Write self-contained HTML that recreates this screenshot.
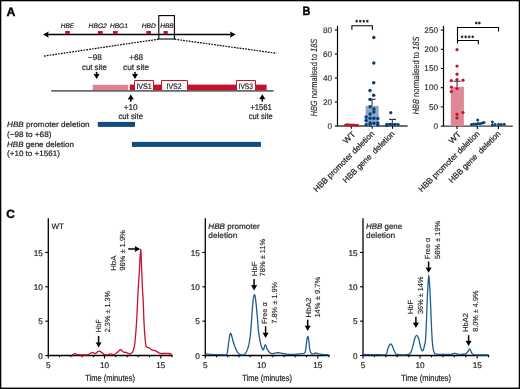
<!DOCTYPE html>
<html><head><meta charset="utf-8"><title>Figure</title>
<style>
html,body{margin:0;padding:0;background:#fff;}
body{width:520px;height:389px;overflow:hidden;}
svg{display:block;font-family:"Liberation Sans",sans-serif;text-rendering:geometricPrecision;}
svg{will-change:transform;}
text{stroke:#222;stroke-width:0.2px;}
text.ns{stroke-width:0.12px;}
text.bl{stroke:#000;stroke-width:0.35px;}
text.lt{stroke-width:0.1px;}
</style></head><body>
<svg width="520" height="389" viewBox="0 0 520 389">
<rect x="0" y="0" width="520" height="389" fill="#fff" />
<text x="6.6" y="15.5" font-size="12.2" textLength="8.9" lengthAdjust="spacingAndGlyphs" fill="#000" font-weight="bold" class="bl">A</text>
<text x="302.6" y="15.3" font-size="12.2" textLength="7.9" lengthAdjust="spacingAndGlyphs" fill="#000" font-weight="bold" class="bl">B</text>
<text x="6.2" y="218.3" font-size="11.8" textLength="8.6" lengthAdjust="spacingAndGlyphs" fill="#000" font-weight="bold" class="bl">C</text>
<line x1="47" y1="34.5" x2="231" y2="34.5" stroke="#000" stroke-width="1.4" />
<path d="M43.1,34.5 L48.7,31.5 L47.9,34.5 L48.7,37.7 Z" fill="#000"/>
<path d="M235.6,34.5 L230.0,31.6 L230.8,34.5 L230.0,37.7 Z" fill="#000"/>
<rect x="65.2" y="31.0" width="4.599999999999994" height="3.0" fill="#c8102e" />
<rect x="97.9" y="31.0" width="4.799999999999997" height="3.0" fill="#c8102e" />
<rect x="113.0" y="31.0" width="4.700000000000003" height="3.0" fill="#c8102e" />
<rect x="146.3" y="31.0" width="4.699999999999989" height="3.0" fill="#c8102e" />
<rect x="163.5" y="31.0" width="4.300000000000011" height="3.0" fill="#c8102e" />
<text x="60.8" y="27.9" font-size="6.5" textLength="13.3" lengthAdjust="spacingAndGlyphs" fill="#222" font-style="italic" >HBE</text>
<text x="88.6" y="27.9" font-size="6.5" textLength="18.2" lengthAdjust="spacingAndGlyphs" fill="#222" font-style="italic" >HBG2</text>
<text x="109.9" y="27.9" font-size="6.5" textLength="18.0" lengthAdjust="spacingAndGlyphs" fill="#222" font-style="italic" >HBG1</text>
<text x="141.8" y="27.9" font-size="6.5" textLength="14.0" lengthAdjust="spacingAndGlyphs" fill="#222" font-style="italic" >HBD</text>
<text x="160.3" y="27.9" font-size="6.5" textLength="13.4" lengthAdjust="spacingAndGlyphs" fill="#222" font-style="italic" >HBB</text>
<rect x="158.8" y="15.6" width="15.6" height="23.4" fill="none" stroke="#000" stroke-width="1.1"/>
<line x1="158.5" y1="39.2" x2="43.2" y2="56.2" stroke="#000" stroke-width="1.2" stroke-dasharray="1.75,1.1"/>
<line x1="174.6" y1="39.2" x2="276.5" y2="53.3" stroke="#000" stroke-width="1.2" stroke-dasharray="1.75,1.1"/>
<rect x="92.8" y="84.8" width="35.3" height="5.2" fill="#de8091" />
<rect x="129.8" y="84.6" width="4.7" height="5.6" fill="#c8102e" />
<rect x="153.5" y="84.6" width="8.0" height="5.6" fill="#c8102e" />
<rect x="187.5" y="84.6" width="49.0" height="5.6" fill="#c8102e" />
<rect x="255.5" y="84.6" width="11.1" height="5.6" fill="#c8102e" />
<rect x="134" y="80" width="20" height="10.2" fill="#fff" />
<path d="M134.5,90.2 V80.5 H153.5 V90.2" fill="none" stroke="#c8102e" stroke-width="1"/>
<rect x="161" y="80" width="27" height="10.2" fill="#fff" />
<path d="M161.5,90.2 V80.5 H187.5 V90.2" fill="none" stroke="#c8102e" stroke-width="1"/>
<rect x="236" y="80" width="20" height="10.2" fill="#fff" />
<path d="M236.5,90.2 V80.5 H255.5 V90.2" fill="none" stroke="#c8102e" stroke-width="1"/>
<rect x="51.2" y="90.2" width="222.4" height="1.4" fill="#444" />
<text x="136.4" y="88.8" font-size="8.0" textLength="15.4" lengthAdjust="spacingAndGlyphs" fill="#1a1a1a"  stroke="#222" stroke-width="0.22">IVS1</text>
<text x="166.6" y="88.8" font-size="8.0" textLength="14.9" lengthAdjust="spacingAndGlyphs" fill="#1a1a1a"  stroke="#222" stroke-width="0.22">IVS2</text>
<text x="238.6" y="88.8" font-size="8.0" textLength="14.3" lengthAdjust="spacingAndGlyphs" fill="#1a1a1a"  stroke="#222" stroke-width="0.22">IVS3</text>
<text x="94.8" y="59.9" font-size="8.2" text-anchor="middle" fill="#222"  >−98</text>
<text x="94.4" y="69.6" font-size="8.2" text-anchor="middle" textLength="24.8" lengthAdjust="spacingAndGlyphs" fill="#222"  >cut site</text>
<text x="136.2" y="59.9" font-size="8.2" text-anchor="middle" fill="#222"  >+68</text>
<text x="136.1" y="69.6" font-size="8.2" text-anchor="middle" textLength="26.0" lengthAdjust="spacingAndGlyphs" fill="#222"  >cut site</text>
<line x1="96.6" y1="71.9" x2="96.6" y2="74.80000000000001" stroke="#000" stroke-width="1.5" />
<path d="M93.5,73.80000000000001 L96.6,74.15 L99.69999999999999,73.80000000000001 L96.6,78.9 Z" fill="#000"/>
<line x1="135.0" y1="71.9" x2="135.0" y2="74.80000000000001" stroke="#000" stroke-width="1.5" />
<path d="M131.9,73.80000000000001 L135.0,74.15 L138.1,73.80000000000001 L135.0,78.9 Z" fill="#000"/>
<line x1="130.8" y1="101.8" x2="130.8" y2="98.6" stroke="#000" stroke-width="1.5" />
<path d="M127.70000000000002,99.6 L130.8,99.25 L133.9,99.6 L130.8,94.6 Z" fill="#000"/>
<line x1="262.3" y1="101.6" x2="262.3" y2="98.3" stroke="#000" stroke-width="1.5" />
<path d="M259.2,99.3 L262.3,98.95 L265.40000000000003,99.3 L262.3,94.3 Z" fill="#000"/>
<text x="130.6" y="109.6" font-size="8.2" text-anchor="middle" fill="#222"  >+10</text>
<text x="130.7" y="118.7" font-size="8.2" text-anchor="middle" textLength="24.6" lengthAdjust="spacingAndGlyphs" fill="#222"  >cut site</text>
<text x="261.0" y="109.9" font-size="8.2" text-anchor="middle" textLength="21.6" lengthAdjust="spacingAndGlyphs" fill="#222"  >+1561</text>
<text x="260.8" y="118.8" font-size="8.2" text-anchor="middle" textLength="24.0" lengthAdjust="spacingAndGlyphs" fill="#222"  >cut site</text>
<text x="7.0" y="127.3" font-size="7.8" fill="#222" textLength="82.6" lengthAdjust="spacingAndGlyphs"><tspan font-style="italic">HBB</tspan> promoter deletion</text>
<text x="7.0" y="136.6" font-size="7.8" textLength="44.4" lengthAdjust="spacingAndGlyphs" fill="#222"  >(−98 to +68)</text>
<text x="7.0" y="146.9" font-size="7.8" fill="#222" textLength="66.9" lengthAdjust="spacingAndGlyphs"><tspan font-style="italic">HBB</tspan> gene deletion</text>
<text x="7.0" y="156.3" font-size="7.8" textLength="52.9" lengthAdjust="spacingAndGlyphs" fill="#222"  >(+10 to +1561)</text>
<rect x="97.8" y="121.9" width="37.2" height="5.0" fill="#104c80" />
<rect x="131.9" y="141.9" width="129.0" height="5.0" fill="#104c80" />
<line x1="337.5" y1="25.8" x2="337.5" y2="126.6" stroke="#000" stroke-width="1.2" />
<line x1="334.8" y1="126.0" x2="337.5" y2="126.0" stroke="#000" stroke-width="1.1" />
<text x="332.0" y="128.7" font-size="8.2" text-anchor="end" fill="#222"  class="lt">0</text>
<line x1="334.8" y1="102.0" x2="337.5" y2="102.0" stroke="#000" stroke-width="1.1" />
<text x="332.0" y="104.7" font-size="8.2" text-anchor="end" fill="#222"  class="lt">20</text>
<line x1="334.8" y1="78.0" x2="337.5" y2="78.0" stroke="#000" stroke-width="1.1" />
<text x="332.0" y="80.7" font-size="8.2" text-anchor="end" fill="#222"  class="lt">40</text>
<line x1="334.8" y1="54.0" x2="337.5" y2="54.0" stroke="#000" stroke-width="1.1" />
<text x="332.0" y="56.7" font-size="8.2" text-anchor="end" fill="#222"  class="lt">60</text>
<line x1="334.8" y1="30.0" x2="337.5" y2="30.0" stroke="#000" stroke-width="1.1" />
<text x="332.0" y="32.7" font-size="8.2" text-anchor="end" fill="#222"  class="lt">80</text>
<line x1="336.9" y1="126.0" x2="407.6" y2="126.0" stroke="#3c3c3c" stroke-width="1.3" />
<line x1="351.3" y1="126.0" x2="351.3" y2="128.8" stroke="#000" stroke-width="1.1" />
<line x1="372.2" y1="126.0" x2="372.2" y2="128.8" stroke="#000" stroke-width="1.1" />
<line x1="392.5" y1="126.0" x2="392.5" y2="128.8" stroke="#000" stroke-width="1.1" />
<text transform="translate(317.0,77.6) rotate(-90)" font-size="9.0" text-anchor="middle" fill="#222" class="lt" textLength="77.6" lengthAdjust="spacingAndGlyphs"><tspan font-style="italic">HBG</tspan> normalised to <tspan font-style="italic">18S</tspan></text>
<rect x="365.95" y="106.15" width="12.3" height="19.849999999999994" fill="#8caac8" stroke="#7b9dc2" stroke-width="0.5"/>
<rect x="386.4" y="123.0" width="12.0" height="3.0" fill="#8caac8" />
<line x1="372.1" y1="99.3" x2="372.1" y2="106.0" stroke="#555" stroke-width="1.3" />
<line x1="369.1" y1="99.3" x2="375.5" y2="99.3" stroke="#444" stroke-width="1.3" />
<line x1="392.3" y1="119.4" x2="392.3" y2="123.5" stroke="#444" stroke-width="1.2" />
<line x1="389.1" y1="119.4" x2="396.0" y2="119.4" stroke="#333" stroke-width="1.2" />
<circle cx="345.5" cy="125.0" r="1.3" fill="#c8102e"/>
<circle cx="347.0" cy="124.6" r="1.3" fill="#c8102e"/>
<circle cx="348.6" cy="124.9" r="1.3" fill="#c8102e"/>
<circle cx="350.2" cy="124.8" r="1.3" fill="#c8102e"/>
<circle cx="351.8" cy="125.1" r="1.3" fill="#c8102e"/>
<circle cx="353.4" cy="124.9" r="1.3" fill="#c8102e"/>
<circle cx="355.0" cy="125.2" r="1.3" fill="#c8102e"/>
<circle cx="356.6" cy="125.0" r="1.3" fill="#c8102e"/>
<circle cx="357.6" cy="125.2" r="1.3" fill="#c8102e"/>
<circle cx="373.8" cy="37.45" r="1.75" fill="#0c3f79"/>
<circle cx="373.8" cy="62.9" r="1.75" fill="#0c3f79"/>
<circle cx="373.7" cy="82.8" r="1.75" fill="#0c3f79"/>
<circle cx="370.0" cy="90.5" r="1.75" fill="#0c3f79"/>
<circle cx="373.7" cy="95.3" r="1.75" fill="#0c3f79"/>
<circle cx="370.0" cy="99.4" r="1.75" fill="#0c3f79"/>
<circle cx="370.1" cy="106.7" r="1.75" fill="#0c3f79"/>
<circle cx="373.9" cy="108.9" r="1.75" fill="#0c3f79"/>
<circle cx="373.9" cy="112.1" r="1.75" fill="#0c3f79"/>
<circle cx="370.1" cy="114.1" r="1.75" fill="#0c3f79"/>
<circle cx="366.1" cy="117.0" r="1.75" fill="#0c3f79"/>
<circle cx="370.1" cy="118.2" r="1.75" fill="#0c3f79"/>
<circle cx="373.9" cy="118.2" r="1.75" fill="#0c3f79"/>
<circle cx="377.8" cy="118.4" r="1.75" fill="#0c3f79"/>
<circle cx="366.1" cy="120.6" r="1.75" fill="#0c3f79"/>
<circle cx="370.1" cy="122.9" r="1.75" fill="#0c3f79"/>
<circle cx="373.9" cy="123.3" r="1.75" fill="#0c3f79"/>
<circle cx="377.8" cy="123.0" r="1.75" fill="#0c3f79"/>
<circle cx="366.1" cy="124.7" r="1.75" fill="#0c3f79"/>
<circle cx="370.1" cy="125.0" r="1.75" fill="#0c3f79"/>
<circle cx="377.8" cy="125.0" r="1.75" fill="#0c3f79"/>
<circle cx="390.8" cy="112.7" r="1.6" fill="#0c3f79"/>
<circle cx="386.9" cy="124.3" r="1.6" fill="#0c3f79"/>
<circle cx="390.0" cy="124.4" r="1.6" fill="#0c3f79"/>
<circle cx="392.3" cy="124.5" r="1.6" fill="#0c3f79"/>
<circle cx="395.0" cy="124.4" r="1.6" fill="#0c3f79"/>
<circle cx="398.1" cy="124.5" r="1.6" fill="#0c3f79"/>
<circle cx="386.9" cy="125.6" r="1.6" fill="#0c3f79"/>
<path d="M351.9,29.8 L351.9,25.8 L372.4,25.8 L372.4,29.8" fill="none" stroke="#000" stroke-width="1.1"/>
<path d="M356.70,19.80 L356.70,22.60 M355.49,20.50 L357.91,21.90 M357.91,20.50 L355.49,21.90 " stroke="#111" stroke-width="0.85" fill="none"/>
<path d="M360.25,19.80 L360.25,22.60 M359.04,20.50 L361.46,21.90 M361.46,20.50 L359.04,21.90 " stroke="#111" stroke-width="0.85" fill="none"/>
<path d="M363.80,19.80 L363.80,22.60 M362.59,20.50 L365.01,21.90 M365.01,20.50 L362.59,21.90 " stroke="#111" stroke-width="0.85" fill="none"/>
<path d="M367.35,19.80 L367.35,22.60 M366.14,20.50 L368.56,21.90 M368.56,20.50 L366.14,21.90 " stroke="#111" stroke-width="0.85" fill="none"/>
<line x1="443.5" y1="25.8" x2="443.5" y2="126.69999999999999" stroke="#000" stroke-width="1.2" />
<line x1="440.8" y1="126.1" x2="443.5" y2="126.1" stroke="#000" stroke-width="1.1" />
<text x="438.0" y="128.79999999999998" font-size="8.2" text-anchor="end" fill="#222"  class="lt">0</text>
<line x1="440.8" y1="106.89999999999999" x2="443.5" y2="106.89999999999999" stroke="#000" stroke-width="1.1" />
<text x="438.0" y="109.6" font-size="8.2" text-anchor="end" fill="#222"  class="lt">50</text>
<line x1="440.8" y1="87.69999999999999" x2="443.5" y2="87.69999999999999" stroke="#000" stroke-width="1.1" />
<text x="438.0" y="90.39999999999999" font-size="8.2" text-anchor="end" fill="#222"  class="lt">100</text>
<line x1="440.8" y1="68.5" x2="443.5" y2="68.5" stroke="#000" stroke-width="1.1" />
<text x="438.0" y="71.2" font-size="8.2" text-anchor="end" fill="#222"  class="lt">150</text>
<line x1="440.8" y1="49.3" x2="443.5" y2="49.3" stroke="#000" stroke-width="1.1" />
<text x="438.0" y="52.0" font-size="8.2" text-anchor="end" fill="#222"  class="lt">200</text>
<line x1="440.8" y1="30.099999999999994" x2="443.5" y2="30.099999999999994" stroke="#000" stroke-width="1.1" />
<text x="438.0" y="32.8" font-size="8.2" text-anchor="end" fill="#222"  class="lt">250</text>
<line x1="442.9" y1="126.1" x2="512.8" y2="126.1" stroke="#3c3c3c" stroke-width="1.3" />
<line x1="457.0" y1="126.1" x2="457.0" y2="128.9" stroke="#000" stroke-width="1.1" />
<line x1="477.3" y1="126.1" x2="477.3" y2="128.9" stroke="#000" stroke-width="1.1" />
<line x1="498.4" y1="126.1" x2="498.4" y2="128.9" stroke="#000" stroke-width="1.1" />
<text transform="translate(418.9,75.5) rotate(-90)" font-size="9.0" text-anchor="middle" fill="#222" class="lt" textLength="77.8" lengthAdjust="spacingAndGlyphs"><tspan font-style="italic">HBB</tspan> normalised to <tspan font-style="italic">18S</tspan></text>
<rect x="450.8" y="86.8" width="13.1" height="39.3" fill="#de8796" />
<line x1="457.1" y1="81.3" x2="457.1" y2="86.8" stroke="#555" stroke-width="1.3" />
<line x1="453.5" y1="81.3" x2="460.7" y2="81.3" stroke="#555" stroke-width="1.3" />
<circle cx="457.0" cy="49.7" r="1.6" fill="#c8102e"/>
<circle cx="457.0" cy="66.1" r="1.6" fill="#c8102e"/>
<circle cx="457.0" cy="74.2" r="1.6" fill="#c8102e"/>
<circle cx="451.3" cy="80.7" r="1.6" fill="#c8102e"/>
<circle cx="457.0" cy="79.6" r="1.6" fill="#c8102e"/>
<circle cx="463.0" cy="80.2" r="1.6" fill="#c8102e"/>
<circle cx="451.3" cy="87.0" r="1.6" fill="#c8102e"/>
<circle cx="457.0" cy="88.6" r="1.6" fill="#c8102e"/>
<circle cx="451.3" cy="91.5" r="1.6" fill="#c8102e"/>
<circle cx="457.0" cy="114.3" r="1.6" fill="#c8102e"/>
<circle cx="457.0" cy="117.9" r="1.6" fill="#c8102e"/>
<circle cx="463.0" cy="112.5" r="1.6" fill="#c8102e"/>
<circle cx="477.7" cy="120.0" r="1.5" fill="#0c3f79"/>
<circle cx="471.5" cy="124.6" r="1.5" fill="#0c3f79"/>
<circle cx="473.7" cy="123.9" r="1.5" fill="#0c3f79"/>
<circle cx="475.8" cy="124.2" r="1.5" fill="#0c3f79"/>
<circle cx="478.0" cy="123.6" r="1.5" fill="#0c3f79"/>
<circle cx="480.2" cy="123.8" r="1.5" fill="#0c3f79"/>
<circle cx="482.4" cy="123.0" r="1.5" fill="#0c3f79"/>
<circle cx="484.0" cy="122.6" r="1.5" fill="#0c3f79"/>
<circle cx="492.4" cy="122.1" r="1.5" fill="#0c3f79"/>
<circle cx="492.4" cy="124.9" r="1.5" fill="#0c3f79"/>
<circle cx="495.1" cy="124.5" r="1.5" fill="#0c3f79"/>
<circle cx="498.5" cy="124.5" r="1.5" fill="#0c3f79"/>
<circle cx="501.2" cy="124.6" r="1.5" fill="#0c3f79"/>
<circle cx="504.2" cy="124.3" r="1.5" fill="#0c3f79"/>
<path d="M457.5,43.6 L457.5,27.5 L498.5,27.5 L498.5,31.6" fill="none" stroke="#000" stroke-width="1.1"/>
<path d="M457.5,40.5 L478.3,40.5 L478.3,44.3" fill="none" stroke="#000" stroke-width="1.1"/>
<path d="M462.10,35.40 L462.10,38.20 M460.89,36.10 L463.31,37.50 M463.31,36.10 L460.89,37.50 " stroke="#111" stroke-width="0.85" fill="none"/>
<path d="M465.65,35.40 L465.65,38.20 M464.44,36.10 L466.86,37.50 M466.86,36.10 L464.44,37.50 " stroke="#111" stroke-width="0.85" fill="none"/>
<path d="M469.20,35.40 L469.20,38.20 M467.99,36.10 L470.41,37.50 M470.41,36.10 L467.99,37.50 " stroke="#111" stroke-width="0.85" fill="none"/>
<path d="M472.75,35.40 L472.75,38.20 M471.54,36.10 L473.96,37.50 M473.96,36.10 L471.54,37.50 " stroke="#111" stroke-width="0.85" fill="none"/>
<path d="M476.30,21.60 L476.30,24.40 M475.09,22.30 L477.51,23.70 M477.51,22.30 L475.09,23.70 " stroke="#111" stroke-width="0.85" fill="none"/>
<path d="M479.40,21.60 L479.40,24.40 M478.19,22.30 L480.61,23.70 M480.61,22.30 L478.19,23.70 " stroke="#111" stroke-width="0.85" fill="none"/>
<text transform="translate(355.90000000000003,134.8) rotate(-45)" font-size="8.2" text-anchor="end" fill="#222" textLength="13.5" lengthAdjust="spacingAndGlyphs">WT</text>
<text transform="translate(375.0,134.2) rotate(-45)" font-size="8.2" text-anchor="end" fill="#222" textLength="82.4" lengthAdjust="spacingAndGlyphs">HBB promoter deletion</text>
<text transform="translate(395.3,134.2) rotate(-45)" font-size="8.2" text-anchor="end" fill="#222" textLength="69.6" lengthAdjust="spacingAndGlyphs">HBB gene&#160; deletion</text>
<text transform="translate(461.6,134.8) rotate(-45)" font-size="8.2" text-anchor="end" fill="#222" textLength="13.5" lengthAdjust="spacingAndGlyphs">WT</text>
<text transform="translate(480.1,134.2) rotate(-45)" font-size="8.2" text-anchor="end" fill="#222" textLength="82.4" lengthAdjust="spacingAndGlyphs">HBB promoter deletion</text>
<text transform="translate(501.2,134.2) rotate(-45)" font-size="8.2" text-anchor="end" fill="#222" textLength="69.6" lengthAdjust="spacingAndGlyphs">HBB gene&#160; deletion</text>
<line x1="48.3" y1="218.2" x2="48.3" y2="356.1" stroke="#000" stroke-width="1.3" />
<line x1="45.3" y1="355.5" x2="48.3" y2="355.5" stroke="#000" stroke-width="1.1" />
<text x="42.8" y="358.7" font-size="8.2" text-anchor="end" fill="#222"  >0</text>
<line x1="45.3" y1="321.15" x2="48.3" y2="321.15" stroke="#000" stroke-width="1.1" />
<text x="42.8" y="324.34999999999997" font-size="8.2" text-anchor="end" fill="#222"  >5</text>
<line x1="45.3" y1="286.8" x2="48.3" y2="286.8" stroke="#000" stroke-width="1.1" />
<text x="42.8" y="290.0" font-size="8.2" text-anchor="end" fill="#222"  >10</text>
<line x1="45.3" y1="252.45" x2="48.3" y2="252.45" stroke="#000" stroke-width="1.1" />
<text x="42.8" y="255.64999999999998" font-size="8.2" text-anchor="end" fill="#222"  >15</text>
<line x1="47.699999999999996" y1="355.5" x2="172.55" y2="355.5" stroke="#000" stroke-width="1.3" />
<line x1="48.3" y1="355.5" x2="48.3" y2="358.5" stroke="#000" stroke-width="1.1" />
<line x1="59.55" y1="355.5" x2="59.55" y2="357.3" stroke="#000" stroke-width="1.1" />
<line x1="70.8" y1="355.5" x2="70.8" y2="357.3" stroke="#000" stroke-width="1.1" />
<line x1="82.05" y1="355.5" x2="82.05" y2="357.3" stroke="#000" stroke-width="1.1" />
<line x1="93.3" y1="355.5" x2="93.3" y2="357.3" stroke="#000" stroke-width="1.1" />
<line x1="104.55" y1="355.5" x2="104.55" y2="358.5" stroke="#000" stroke-width="1.1" />
<line x1="115.8" y1="355.5" x2="115.8" y2="357.3" stroke="#000" stroke-width="1.1" />
<line x1="127.05" y1="355.5" x2="127.05" y2="357.3" stroke="#000" stroke-width="1.1" />
<line x1="138.3" y1="355.5" x2="138.3" y2="357.3" stroke="#000" stroke-width="1.1" />
<line x1="149.55" y1="355.5" x2="149.55" y2="357.3" stroke="#000" stroke-width="1.1" />
<line x1="160.8" y1="355.5" x2="160.8" y2="358.5" stroke="#000" stroke-width="1.1" />
<line x1="172.05" y1="355.5" x2="172.05" y2="357.3" stroke="#000" stroke-width="1.1" />
<text x="48.3" y="367.8" font-size="8.2" text-anchor="middle" fill="#222"  >5</text>
<text x="104.55" y="367.8" font-size="8.2" text-anchor="middle" fill="#222"  >10</text>
<text x="160.8" y="367.8" font-size="8.2" text-anchor="middle" fill="#222"  >15</text>
<text x="85.19999999999999" y="380.5" font-size="8.9" textLength="49.8" lengthAdjust="spacingAndGlyphs" fill="#222"  >Time (minutes)</text>
<path d="M71.80,355.20 C72.07,355.03 72.90,354.47 73.40,354.20 C73.90,353.93 74.33,353.60 74.80,353.60 C75.27,353.60 75.67,354.02 76.20,354.20 C76.73,354.38 77.03,354.60 78.00,354.70 C78.97,354.80 80.30,354.82 82.00,354.80 C83.70,354.78 86.78,354.83 88.20,354.60 C89.62,354.37 89.75,353.77 90.50,353.40 C91.25,353.03 91.92,352.35 92.70,352.40 C93.48,352.45 94.43,353.77 95.20,353.70 C95.97,353.63 96.60,352.43 97.30,352.00 C98.00,351.57 98.68,351.03 99.40,351.10 C100.12,351.17 100.83,351.87 101.60,352.40 C102.37,352.93 103.27,353.90 104.00,354.30 C104.73,354.70 105.25,354.78 106.00,354.80 C106.75,354.82 107.63,354.57 108.50,354.40 C109.37,354.23 110.28,353.75 111.20,353.80 C112.12,353.85 113.03,354.90 114.00,354.70 C114.97,354.50 115.90,353.43 117.00,352.60 C118.10,351.77 119.68,349.93 120.60,349.70 C121.52,349.47 121.93,350.77 122.50,351.20 C123.07,351.63 123.42,352.12 124.00,352.30 C124.58,352.48 125.33,352.12 126.00,352.30 C126.67,352.48 127.37,353.15 128.00,353.40 C128.63,353.65 129.23,353.82 129.80,353.80 C130.37,353.78 130.87,353.77 131.40,353.30 C131.93,352.83 132.53,352.05 133.00,351.00 C133.47,349.95 133.83,348.83 134.20,347.00 C134.57,345.17 134.78,344.50 135.20,340.00 C135.62,335.50 136.25,327.50 136.70,320.00 C137.15,312.50 137.45,303.33 137.90,295.00 C138.35,286.67 138.93,277.57 139.40,270.00 C139.87,262.43 140.33,249.93 140.70,249.60 C141.07,249.27 141.32,261.60 141.60,268.00 C141.88,274.40 142.13,282.57 142.40,288.00 C142.67,293.43 142.95,295.27 143.20,300.60 C143.45,305.93 143.67,314.77 143.90,320.00 C144.13,325.23 144.38,328.67 144.60,332.00 C144.82,335.33 144.98,337.78 145.20,340.00 C145.42,342.22 145.63,344.10 145.90,345.30 C146.17,346.50 146.33,346.82 146.80,347.20 C147.27,347.58 147.87,347.17 148.70,347.60 C149.53,348.03 150.82,349.30 151.80,349.80 C152.78,350.30 153.83,350.35 154.60,350.60 C155.37,350.85 155.60,350.88 156.40,351.30 C157.20,351.72 158.58,352.73 159.40,353.10 C160.22,353.47 159.73,353.43 161.30,353.50 C162.87,353.57 167.02,353.33 168.80,353.50 C170.58,353.67 171.47,354.33 172.00,354.50" fill="none" stroke="#c8102e" stroke-width="1.3" stroke-linejoin="round"/>
<text x="51.4" y="228.8" font-size="8.0" textLength="12.6" lengthAdjust="spacingAndGlyphs" fill="#222"  >WT</text>
<line x1="205.3" y1="218.2" x2="205.3" y2="356.1" stroke="#000" stroke-width="1.3" />
<line x1="202.3" y1="355.5" x2="205.3" y2="355.5" stroke="#000" stroke-width="1.1" />
<text x="199.8" y="358.7" font-size="8.2" text-anchor="end" fill="#222"  >0</text>
<line x1="202.3" y1="321.15" x2="205.3" y2="321.15" stroke="#000" stroke-width="1.1" />
<text x="199.8" y="324.34999999999997" font-size="8.2" text-anchor="end" fill="#222"  >5</text>
<line x1="202.3" y1="286.8" x2="205.3" y2="286.8" stroke="#000" stroke-width="1.1" />
<text x="199.8" y="290.0" font-size="8.2" text-anchor="end" fill="#222"  >10</text>
<line x1="202.3" y1="252.45" x2="205.3" y2="252.45" stroke="#000" stroke-width="1.1" />
<text x="199.8" y="255.64999999999998" font-size="8.2" text-anchor="end" fill="#222"  >15</text>
<line x1="204.70000000000002" y1="355.5" x2="329.55" y2="355.5" stroke="#000" stroke-width="1.3" />
<line x1="205.3" y1="355.5" x2="205.3" y2="358.5" stroke="#000" stroke-width="1.1" />
<line x1="216.55" y1="355.5" x2="216.55" y2="357.3" stroke="#000" stroke-width="1.1" />
<line x1="227.8" y1="355.5" x2="227.8" y2="357.3" stroke="#000" stroke-width="1.1" />
<line x1="239.05" y1="355.5" x2="239.05" y2="357.3" stroke="#000" stroke-width="1.1" />
<line x1="250.3" y1="355.5" x2="250.3" y2="357.3" stroke="#000" stroke-width="1.1" />
<line x1="261.55" y1="355.5" x2="261.55" y2="358.5" stroke="#000" stroke-width="1.1" />
<line x1="272.8" y1="355.5" x2="272.8" y2="357.3" stroke="#000" stroke-width="1.1" />
<line x1="284.05" y1="355.5" x2="284.05" y2="357.3" stroke="#000" stroke-width="1.1" />
<line x1="295.3" y1="355.5" x2="295.3" y2="357.3" stroke="#000" stroke-width="1.1" />
<line x1="306.55" y1="355.5" x2="306.55" y2="357.3" stroke="#000" stroke-width="1.1" />
<line x1="317.8" y1="355.5" x2="317.8" y2="358.5" stroke="#000" stroke-width="1.1" />
<line x1="329.05" y1="355.5" x2="329.05" y2="357.3" stroke="#000" stroke-width="1.1" />
<text x="205.3" y="367.8" font-size="8.2" text-anchor="middle" fill="#222"  >5</text>
<text x="261.55" y="367.8" font-size="8.2" text-anchor="middle" fill="#222"  >10</text>
<text x="317.8" y="367.8" font-size="8.2" text-anchor="middle" fill="#222"  >15</text>
<text x="242.20000000000002" y="380.5" font-size="8.9" textLength="49.8" lengthAdjust="spacingAndGlyphs" fill="#222"  >Time (minutes)</text>
<path d="M205.40,354.30 C205.78,354.23 206.85,353.88 207.70,353.90 C208.55,353.92 208.45,354.28 210.50,354.40 C212.55,354.52 217.38,354.57 220.00,354.60 C222.62,354.63 224.95,355.15 226.20,354.60 C227.45,354.05 227.07,353.48 227.50,351.30 C227.93,349.12 228.38,344.35 228.80,341.50 C229.22,338.65 229.68,335.53 230.00,334.20 C230.32,332.87 230.43,333.28 230.70,333.50 C230.97,333.72 231.22,334.25 231.60,335.50 C231.98,336.75 232.48,339.22 233.00,341.00 C233.52,342.78 234.00,344.40 234.70,346.20 C235.40,348.00 236.35,350.45 237.20,351.80 C238.05,353.15 238.63,353.85 239.80,354.30 C240.97,354.75 243.13,354.83 244.20,354.50 C245.27,354.17 245.55,353.43 246.20,352.30 C246.85,351.17 247.45,350.17 248.10,347.70 C248.75,345.23 249.57,341.45 250.10,337.50 C250.63,333.55 250.95,328.42 251.30,324.00 C251.65,319.58 251.88,315.08 252.20,311.00 C252.52,306.92 252.83,302.23 253.20,299.50 C253.57,296.77 254.02,294.77 254.40,294.60 C254.78,294.43 255.13,296.10 255.50,298.50 C255.87,300.90 256.25,305.42 256.60,309.00 C256.95,312.58 257.28,316.28 257.60,320.00 C257.92,323.72 258.03,327.53 258.50,331.30 C258.97,335.07 259.75,339.62 260.40,342.60 C261.05,345.58 261.87,348.08 262.40,349.20 C262.93,350.32 263.12,350.07 263.60,349.30 C264.08,348.53 264.72,344.67 265.30,344.60 C265.88,344.53 266.37,347.55 267.10,348.90 C267.83,350.25 268.85,351.92 269.70,352.70 C270.55,353.48 271.18,353.57 272.20,353.60 C273.22,353.63 274.50,353.03 275.80,352.90 C277.10,352.77 278.63,352.67 280.00,352.80 C281.37,352.93 282.58,353.43 284.00,353.70 C285.42,353.97 286.67,354.30 288.50,354.40 C290.33,354.50 293.08,354.40 295.00,354.30 C296.92,354.20 298.45,353.98 300.00,353.80 C301.55,353.62 303.37,353.75 304.30,353.20 C305.23,352.65 305.20,352.53 305.60,350.50 C306.00,348.47 306.35,343.35 306.70,341.00 C307.05,338.65 307.37,336.57 307.70,336.40 C308.03,336.23 308.35,337.82 308.70,340.00 C309.05,342.18 309.38,347.28 309.80,349.50 C310.22,351.72 310.57,352.58 311.20,353.30 C311.83,354.02 312.82,353.85 313.60,353.80 C314.38,353.75 315.08,353.00 315.90,353.00 C316.72,353.00 317.48,353.58 318.50,353.80 C319.52,354.02 320.35,354.13 322.00,354.30 C323.65,354.47 327.33,354.72 328.40,354.80" fill="none" stroke="#1f5b91" stroke-width="1.3" stroke-linejoin="round"/>
<text x="208.3" y="229.0" font-size="8.0" fill="#222" textLength="51.4" lengthAdjust="spacingAndGlyphs"><tspan font-style="italic">HBB</tspan> promoter</text>
<text x="208.3" y="237.8" font-size="8.0" textLength="29.0" lengthAdjust="spacingAndGlyphs" fill="#222"  >deletion</text>
<line x1="363.0" y1="218.2" x2="363.0" y2="356.1" stroke="#000" stroke-width="1.3" />
<line x1="360.0" y1="355.5" x2="363.0" y2="355.5" stroke="#000" stroke-width="1.1" />
<text x="357.5" y="358.7" font-size="8.2" text-anchor="end" fill="#222"  >0</text>
<line x1="360.0" y1="321.15" x2="363.0" y2="321.15" stroke="#000" stroke-width="1.1" />
<text x="357.5" y="324.34999999999997" font-size="8.2" text-anchor="end" fill="#222"  >5</text>
<line x1="360.0" y1="286.8" x2="363.0" y2="286.8" stroke="#000" stroke-width="1.1" />
<text x="357.5" y="290.0" font-size="8.2" text-anchor="end" fill="#222"  >10</text>
<line x1="360.0" y1="252.45" x2="363.0" y2="252.45" stroke="#000" stroke-width="1.1" />
<text x="357.5" y="255.64999999999998" font-size="8.2" text-anchor="end" fill="#222"  >15</text>
<line x1="362.4" y1="355.5" x2="489.12" y2="355.5" stroke="#000" stroke-width="1.3" />
<line x1="363.0" y1="355.5" x2="363.0" y2="358.5" stroke="#000" stroke-width="1.1" />
<line x1="374.42" y1="355.5" x2="374.42" y2="357.3" stroke="#000" stroke-width="1.1" />
<line x1="385.84" y1="355.5" x2="385.84" y2="357.3" stroke="#000" stroke-width="1.1" />
<line x1="397.26" y1="355.5" x2="397.26" y2="357.3" stroke="#000" stroke-width="1.1" />
<line x1="408.68" y1="355.5" x2="408.68" y2="357.3" stroke="#000" stroke-width="1.1" />
<line x1="420.1" y1="355.5" x2="420.1" y2="358.5" stroke="#000" stroke-width="1.1" />
<line x1="431.52" y1="355.5" x2="431.52" y2="357.3" stroke="#000" stroke-width="1.1" />
<line x1="442.94" y1="355.5" x2="442.94" y2="357.3" stroke="#000" stroke-width="1.1" />
<line x1="454.36" y1="355.5" x2="454.36" y2="357.3" stroke="#000" stroke-width="1.1" />
<line x1="465.78" y1="355.5" x2="465.78" y2="357.3" stroke="#000" stroke-width="1.1" />
<line x1="477.2" y1="355.5" x2="477.2" y2="358.5" stroke="#000" stroke-width="1.1" />
<line x1="488.62" y1="355.5" x2="488.62" y2="357.3" stroke="#000" stroke-width="1.1" />
<text x="363.0" y="367.8" font-size="8.2" text-anchor="middle" fill="#222"  >5</text>
<text x="420.1" y="367.8" font-size="8.2" text-anchor="middle" fill="#222"  >10</text>
<text x="477.2" y="367.8" font-size="8.2" text-anchor="middle" fill="#222"  >15</text>
<text x="401.3" y="380.5" font-size="8.9" textLength="49.8" lengthAdjust="spacingAndGlyphs" fill="#222"  >Time (minutes)</text>
<path d="M363.50,354.50 C365.42,354.52 371.32,354.60 375.00,354.60 C378.68,354.60 383.53,355.20 385.60,354.50 C387.67,353.80 386.88,351.77 387.40,350.40 C387.92,349.03 388.17,347.37 388.70,346.30 C389.23,345.23 390.02,344.12 390.60,344.00 C391.18,343.88 391.77,344.85 392.20,345.60 C392.63,346.35 392.67,347.23 393.20,348.50 C393.73,349.77 394.68,352.20 395.40,353.20 C396.12,354.20 395.37,354.28 397.50,354.50 C399.63,354.72 406.07,354.75 408.20,354.50 C410.33,354.25 409.73,353.67 410.30,353.00 C410.87,352.33 411.10,351.92 411.60,350.50 C412.10,349.08 412.73,346.62 413.30,344.50 C413.87,342.38 414.42,339.33 415.00,337.80 C415.58,336.27 416.20,335.18 416.80,335.30 C417.40,335.42 418.07,336.97 418.60,338.50 C419.13,340.03 419.52,342.62 420.00,344.50 C420.48,346.38 421.08,348.73 421.50,349.80 C421.92,350.87 422.15,351.03 422.50,350.90 C422.85,350.77 423.25,349.98 423.60,349.00 C423.95,348.02 424.28,346.50 424.60,345.00 C424.92,343.50 425.18,344.17 425.50,340.00 C425.82,335.83 426.22,326.67 426.50,320.00 C426.78,313.33 426.95,305.83 427.20,300.00 C427.45,294.17 427.73,289.17 428.00,285.00 C428.27,280.83 428.53,275.00 428.80,275.00 C429.07,275.00 429.33,280.83 429.60,285.00 C429.87,289.17 430.13,294.17 430.40,300.00 C430.67,305.83 430.90,313.33 431.20,320.00 C431.50,326.67 431.90,335.33 432.20,340.00 C432.50,344.67 432.67,345.95 433.00,348.00 C433.33,350.05 433.60,351.27 434.20,352.30 C434.80,353.33 433.82,353.87 436.60,354.20 C439.38,354.53 448.22,354.40 450.90,354.30 C453.58,354.20 452.07,353.77 452.70,353.60 C453.33,353.43 453.98,353.25 454.70,353.30 C455.42,353.35 456.28,353.73 457.00,353.90 C457.72,354.07 457.62,354.28 459.00,354.30 C460.38,354.32 463.98,354.23 465.30,354.00 C466.62,353.77 466.37,353.47 466.90,352.90 C467.43,352.33 468.03,351.25 468.50,350.60 C468.97,349.95 469.32,348.97 469.70,349.00 C470.08,349.03 470.43,350.07 470.80,350.80 C471.17,351.53 471.30,352.77 471.90,353.40 C472.50,354.03 473.05,354.37 474.40,354.60 C475.75,354.83 477.65,354.77 480.00,354.80 C482.35,354.83 487.08,354.80 488.50,354.80" fill="none" stroke="#1f5b91" stroke-width="1.3" stroke-linejoin="round"/>
<text x="366.1" y="229.0" font-size="8.0" fill="#222" textLength="36.0" lengthAdjust="spacingAndGlyphs"><tspan font-style="italic">HBB</tspan> gene</text>
<text x="366.1" y="237.8" font-size="8.0" textLength="29.0" lengthAdjust="spacingAndGlyphs" fill="#222"  >deletion</text>
<text class="ns" transform="translate(116.1,270.8) rotate(-90)" font-size="7.4" fill="#222" textLength="15.2" lengthAdjust="spacingAndGlyphs">HbA</text>
<text class="ns" transform="translate(124.8,270.8) rotate(-90)" font-size="7.4" fill="#222" textLength="40.6" lengthAdjust="spacingAndGlyphs">96% ± 1.9%</text>
<line x1="128.2" y1="249.0" x2="135.79999999999998" y2="249.0" stroke="#000" stroke-width="1.5" />
<path d="M134.79999999999998,246.1 L135.14999999999998,249.0 L134.79999999999998,251.9 L140.2,249.0 Z" fill="#000"/>
<text class="ns" transform="translate(100.9,332.2) rotate(-90)" font-size="7.4" fill="#222" textLength="12.8" lengthAdjust="spacingAndGlyphs">HbF</text>
<text class="ns" transform="translate(109.9,332.2) rotate(-90)" font-size="7.4" fill="#222" textLength="41.2" lengthAdjust="spacingAndGlyphs">2.3% ± 1.3%</text>
<line x1="98.6" y1="336.0" x2="98.6" y2="343.3" stroke="#000" stroke-width="1.5" />
<path d="M95.6,342.3 L98.6,342.65000000000003 L101.6,342.3 L98.6,347.6 Z" fill="#000"/>
<text class="ns" transform="translate(256.6,276.2) rotate(-90)" font-size="7.4" fill="#222" textLength="14.8" lengthAdjust="spacingAndGlyphs">HbF</text>
<text class="ns" transform="translate(265.4,276.4) rotate(-90)" font-size="7.4" fill="#222" textLength="37.6" lengthAdjust="spacingAndGlyphs">78% ± 11%</text>
<line x1="254.1" y1="279.0" x2="254.1" y2="286.0" stroke="#000" stroke-width="1.5" />
<path d="M251.0,285.0 L254.1,285.35 L257.2,285.0 L254.1,290.4 Z" fill="#000"/>
<text class="ns" transform="translate(267.3,323.8) rotate(-90)" font-size="7.4" fill="#222" textLength="21.6" lengthAdjust="spacingAndGlyphs">Free α</text>
<text class="ns" transform="translate(277.2,323.8) rotate(-90)" font-size="7.4" fill="#222" textLength="42.0" lengthAdjust="spacingAndGlyphs">7.8% ± 1.9%</text>
<line x1="265.6" y1="326.2" x2="265.6" y2="333.6" stroke="#000" stroke-width="1.5" />
<path d="M262.5,332.6 L265.6,332.95000000000005 L268.70000000000005,332.6 L265.6,338.0 Z" fill="#000"/>
<text class="ns" transform="translate(311.0,317.6) rotate(-90)" font-size="7.4" fill="#222" textLength="20.0" lengthAdjust="spacingAndGlyphs">HbA2</text>
<text class="ns" transform="translate(320.2,317.6) rotate(-90)" font-size="7.4" fill="#222" textLength="40.8" lengthAdjust="spacingAndGlyphs">14% ± 9.7%</text>
<line x1="307.7" y1="319.7" x2="307.7" y2="326.6" stroke="#000" stroke-width="1.5" />
<path d="M304.59999999999997,325.6 L307.7,325.95000000000005 L310.8,325.6 L307.7,331.0 Z" fill="#000"/>
<text class="ns" transform="translate(412.8,314.0) rotate(-90)" font-size="7.4" fill="#222" textLength="14.0" lengthAdjust="spacingAndGlyphs">HbF</text>
<text class="ns" transform="translate(422.6,314.0) rotate(-90)" font-size="7.4" fill="#222" textLength="37.4" lengthAdjust="spacingAndGlyphs">36% ± 14%</text>
<line x1="415.9" y1="316.8" x2="415.9" y2="323.5" stroke="#000" stroke-width="1.5" />
<path d="M412.79999999999995,322.5 L415.9,322.85 L419.0,322.5 L415.9,327.9 Z" fill="#000"/>
<text class="ns" transform="translate(430.4,259.0) rotate(-90)" font-size="7.4" fill="#222" textLength="21.2" lengthAdjust="spacingAndGlyphs">Free α</text>
<text class="ns" transform="translate(440.0,259.0) rotate(-90)" font-size="7.4" fill="#222" textLength="38.2" lengthAdjust="spacingAndGlyphs">56% ± 19%</text>
<line x1="428.6" y1="261.5" x2="428.6" y2="268.40000000000003" stroke="#000" stroke-width="1.5" />
<path d="M425.5,267.40000000000003 L428.6,267.75000000000006 L431.70000000000005,267.40000000000003 L428.6,272.8 Z" fill="#000"/>
<text class="ns" transform="translate(468.0,331.8) rotate(-90)" font-size="7.4" fill="#222" textLength="18.6" lengthAdjust="spacingAndGlyphs">HbA2</text>
<text class="ns" transform="translate(477.9,331.8) rotate(-90)" font-size="7.4" fill="#222" textLength="41.2" lengthAdjust="spacingAndGlyphs">8.0% ± 4.9%</text>
<line x1="468.6" y1="335.2" x2="468.6" y2="341.70000000000005" stroke="#000" stroke-width="1.5" />
<path d="M465.5,340.70000000000005 L468.6,341.05000000000007 L471.70000000000005,340.70000000000005 L468.6,346.1 Z" fill="#000"/>
<rect x="0" y="0" width="520" height="1.3" fill="#000" />
<rect x="0" y="0" width="1.3" height="389" fill="#000" />
<rect x="518.75" y="0" width="1.25" height="389" fill="#000" />
<rect x="0" y="387.6" width="520" height="1.4" fill="#000" />
</svg>
</body></html>
